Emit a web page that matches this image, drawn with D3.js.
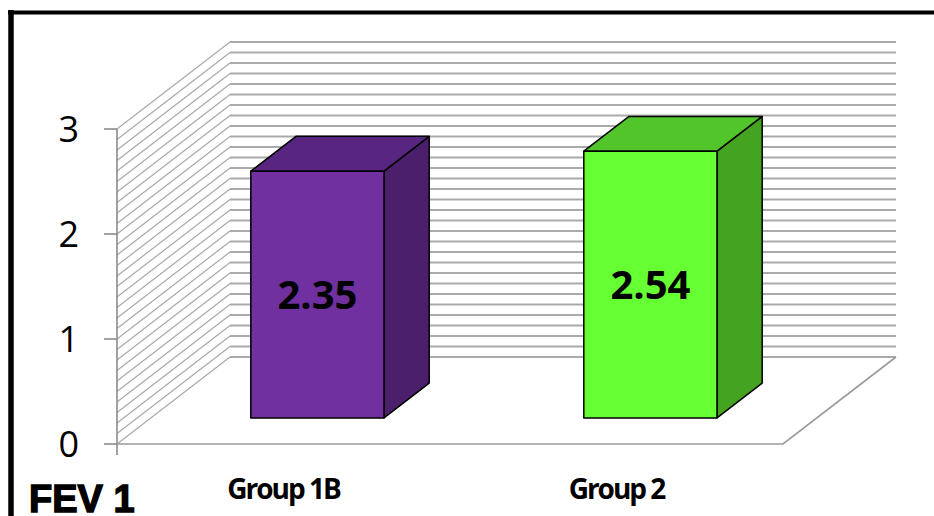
<!DOCTYPE html>
<html lang="en">
<head>
    <meta charset="UTF-8">
    <title>FEV 1</title>
    <script src="https://d3js.org/d3.v7.min.js"></script>
    <style>
        body { margin: 0; background: #fff; }
        svg { display: block; }
        .tick-label { font-family: "Open Sans", sans-serif; font-size: 36px; fill: #000; }
        .cat-label { font-family: "Open Sans", sans-serif; font-weight: bold; font-size: 28px; letter-spacing: -2px; fill: #000; }
        .val-label { font-family: "Open Sans", sans-serif; font-weight: bold; font-size: 40px; fill: #000; }
        .title { font-family: "Liberation Sans", Arial, sans-serif; font-weight: bold; font-size: 38px; fill: #000; stroke: #000; stroke-width: 1.4px; }
    </style>
</head>
<body>
    <svg width="934" height="516"></svg>

    <script>
        // data
        const categories = ["Group 1B", "Group 2"];
        const values = [2.35, 2.54];
        const yTicks = [0, 1, 2, 3];
        const title = "FEV 1";

        const frontColors = ["#7030a0", "#66ff33"];
        const topColors = ["#582581", "#52c52b"];
        const sideColors = ["#4b1f6b", "#44a321"];

        const svg = d3.select("svg");

        // front plane of the plot and the depth offset of the back wall
        const x = d3.scaleBand().domain(categories).range([117, 783]);
        const y = d3.scaleLinear().domain([0, 3]).range([444, 129]);
        const DX = 113, DY = -87;
        const d0 = 0.3, d1 = 0.7;   // bar depth, as fraction of the floor
        const barFrac = 0.4;

        const P = (px, v, d) => [px + d * DX, y(v) + d * DY];
        const line = d3.line();

        // outer frame (only top and left are inside the picture)
        svg.append("path")
            .attr("d", "M8,12.5 H934")
            .attr("stroke", "#000").attr("stroke-width", 4);
        svg.append("path")
            .attr("d", "M11,10 V516")
            .attr("stroke", "#000").attr("stroke-width", 5.5);

        const grid = y.ticks(30);
        const [xl, xr] = x.range();

        // back wall gridlines
        svg.append("g").selectAll("path")
            .data(grid)
            .join("path")
            .attr("d", v => line([P(xl, v, 1), P(xr, v, 1)]))
            .attr("stroke", "#aaaaaa")
            .attr("stroke-width", 2)
            .attr("fill", "none");

        // side wall diagonals
        svg.append("g").selectAll("path")
            .data(grid)
            .join("path")
            .attr("d", v => line([P(xl, v, 0), P(xl, v, 1)]))
            .attr("stroke", "#a9a9a9")
            .attr("stroke-width", 1.2)
            .attr("fill", "none");

        // floor edges
        svg.append("path")
            .attr("d", line([P(xl, 0, 0), P(xr, 0, 0), P(xr, 0, 1)]))
            .attr("stroke", "#9a9a9a")
            .attr("stroke-width", 1.6)
            .attr("fill", "none");

        // value axis
        svg.append("path")
            .attr("d", line([[xl, y(0) + 11], [xl, y(3)]]))
            .attr("stroke", "#8c8c8c").attr("stroke-width", 1.6).attr("fill", "none");
        svg.append("g").selectAll("path")
            .data(yTicks)
            .join("path")
            .attr("d", v => line([[xl - 13, y(v)], [xl, y(v)]]))
            .attr("stroke", "#8c8c8c").attr("stroke-width", 1.6);
        svg.append("g").selectAll("text")
            .data(yTicks)
            .join("text")
            .attr("class", "tick-label")
            .attr("x", 79)
            .attr("y", v => y(v) + 13)
            .attr("text-anchor", "end")
            .text(d => d);

        // bars
        const bars = svg.append("g").selectAll("g")
            .data(categories.map((c, i) => ({ c, v: values[i], i })))
            .join("g");

        bars.each(function (d) {
            const g = d3.select(this);
            const cx = x(d.c) + x.bandwidth() / 2;
            const w = x.bandwidth() * barFrac;
            const a = cx - w / 2, b = cx + w / 2;
            const stroke = { "stroke": "#000", "stroke-width": 1.5, "stroke-linejoin": "round" };

            const front = [P(a, 0, d0), P(b, 0, d0), P(b, d.v, d0), P(a, d.v, d0)];
            const top = [P(a, d.v, d0), P(b, d.v, d0), P(b, d.v, d1), P(a, d.v, d1)];
            const side = [P(b, 0, d0), P(b, d.v, d0), P(b, d.v, d1), P(b, 0, d1)];

            [[side, sideColors[d.i]], [top, topColors[d.i]], [front, frontColors[d.i]]].forEach(([pts, col]) => {
                const p = g.append("path").attr("d", line(pts) + "Z").attr("fill", col);
                Object.entries(stroke).forEach(([k, v]) => p.attr(k, v));
            });

            const fx = (front[0][0] + front[1][0]) / 2;
            const fy = (front[0][1] + front[2][1]) / 2;
            g.append("text")
                .attr("class", "val-label")
                .attr("x", fx)
                .attr("y", fy + 14)
                .attr("text-anchor", "middle")
                .text(d.v.toFixed(2));
        });

        // category labels
        svg.append("g").selectAll("text")
            .data(categories)
            .join("text")
            .attr("class", "cat-label")
            .attr("x", c => x(c) + x.bandwidth() / 2)
            .attr("y", 499)
            .attr("text-anchor", "middle")
            .text(c => c);

        svg.append("text")
            .attr("class", "title")
            .attr("x", 29)
            .attr("y", 512)
            .text(title);
    </script>
</body>
</html>
